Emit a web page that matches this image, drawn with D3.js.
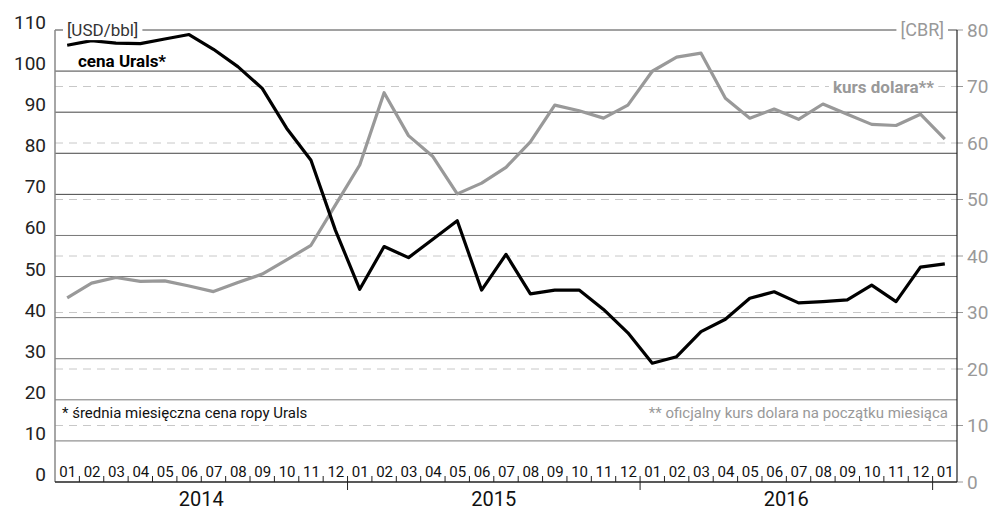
<!DOCTYPE html>
<html>
<head>
<meta charset="utf-8">
<script src="https://cdn.jsdelivr.net/npm/d3@7"></script>
<style>
  body { margin: 0; background: #fff; }
  text { font-family: Roboto, "Noto Sans", sans-serif; }
</style>
</head>
<body>
<div id="chart"></div>
<script>
var months = ['2014-01', '2014-02', '2014-03', '2014-04', '2014-05', '2014-06', '2014-07', '2014-08', '2014-09', '2014-10', '2014-11', '2014-12',
    '2015-01', '2015-02', '2015-03', '2015-04', '2015-05', '2015-06', '2015-07', '2015-08', '2015-09', '2015-10', '2015-11', '2015-12',
    '2016-01', '2016-02', '2016-03', '2016-04', '2016-05', '2016-06', '2016-07', '2016-08', '2016-09', '2016-10', '2016-11', '2016-12',
    '2017-01'];
var monthLabels = ['01', '02', '03', '04', '05', '06', '07', '08', '09', '10', '11', '12',
    '01', '02', '03', '04', '05', '06', '07', '08', '09', '10', '11', '12',
    '01', '02', '03', '04', '05', '06', '07', '08', '09', '10', '11', '12',
    '01'];
var years = ['2014', '2015', '2016'];

// cena Urals, USD/bbl (lewa os)
var urals = [106.3, 107.4, 106.8, 106.7, 107.8, 108.9, 105.3, 101.1, 95.8, 86.1, 78.3, 61.3,
    46.9, 57.3, 54.6, 59.1, 63.6, 46.7, 55.4, 45.8, 46.7, 46.7, 42.0, 36.3,
    28.9, 30.5, 36.6, 39.6, 44.7, 46.3, 43.6, 43.9, 44.3, 47.9, 43.9, 52.3,
    53.1];
// kurs dolara CBR (prawa os)
var usdrub = [32.6, 35.2, 36.2, 35.5, 35.6, 34.7, 33.7, 35.3, 36.8, 39.3, 41.9, 49.0,
    56.1, 68.9, 61.3, 57.6, 51.0, 52.9, 55.7, 60.2, 66.7, 65.7, 64.4, 66.7,
    72.7, 75.2, 75.9, 67.9, 64.4, 66.0, 64.2, 66.9, 65.1, 63.3, 63.1, 65.1,
    60.7];

var leftTicks = [0, 10, 20, 30, 40, 50, 60, 70, 80, 90, 100, 110];
var rightTicks = [0, 10, 20, 30, 40, 50, 60, 70, 80];

var width = 993, height = 511;
var margin = ({ top: 30, right: 36, bottom: 29, left: 55 });

var x = d3.scaleBand()
    .domain(months)
    .range([margin.left, width - margin.right]);
var yL = d3.scaleLinear()
    .domain([0, 110])
    .range([height - margin.bottom, margin.top]);
var yR = d3.scaleLinear()
    .domain([0, 80])
    .range([height - margin.bottom, margin.top]);
var cx = d => x(d) + x.bandwidth() / 2;
var x0 = margin.left, x1 = width - margin.right, yBase = yL(0);

var svg = d3.select('#chart')
    .append('svg')
    .attr('width', width)
    .attr('height', height);

// dashed grid (right axis)
svg.append('g')
    .selectAll('line').data(rightTicks.filter(d => d > 0 && d < 80)).enter().append('line')
    .attr('x1', x0).attr('x2', x1)
    .attr('y1', d => yR(d)).attr('y2', d => yR(d))
    .attr('stroke', '#c8c8c8')
    .attr('stroke-dasharray', '8,6');

// solid grid (left axis)
svg.append('g')
    .selectAll('line').data(leftTicks.filter(d => d > 0)).enter().append('line')
    .attr('x1', x0).attr('x2', x1)
    .attr('y1', d => yL(d)).attr('y2', d => yL(d))
    .attr('stroke', d => d >= 70 ? '#444' : '#777')
    .attr('stroke-width', 1);

// left tick labels
svg.append('g')
    .selectAll('text').data(leftTicks).enter().append('text')
    .attr('x', 46)
    .attr('y', d => yL(d) - 1)
    .attr('text-anchor', 'end')
    .attr('font-size', 19)
    .attr('fill', '#222')
    .text(d => d);

// right ticks + labels
var gR = svg.append('g');
gR.selectAll('line').data(rightTicks).enter().append('line')
    .attr('x1', x1).attr('x2', x1 + 6)
    .attr('y1', d => yR(d)).attr('y2', d => yR(d))
    .attr('stroke', '#999');
gR.selectAll('text').data(rightTicks).enter().append('text')
    .attr('x', x1 + 10)
    .attr('y', d => yR(d))
    .attr('dy', '0.36em')
    .attr('font-size', 19)
    .attr('fill', '#999')
    .text(d => d);

// axes lines
svg.append('line')
    .attr('x1', x0).attr('x2', x0).attr('y1', margin.top).attr('y2', yBase)
    .attr('stroke', '#888').attr('stroke-width', 1.5);
svg.append('line')
    .attr('x1', x1).attr('x2', x1).attr('y1', margin.top).attr('y2', yBase)
    .attr('stroke', '#222').attr('stroke-width', 1.2);
svg.append('line')
    .attr('x1', x0).attr('x2', x1).attr('y1', yBase).attr('y2', yBase)
    .attr('stroke', '#222').attr('stroke-width', 1.5);

// month ticks and labels
svg.append('g')
    .selectAll('line').data(months.slice(1)).enter().append('line')
    .attr('x1', d => x(d)).attr('x2', d => x(d))
    .attr('y1', yBase - 6).attr('y2', d => d.endsWith('-01') ? yBase + 8 : yBase)
    .attr('stroke', '#222');
svg.append('g')
    .selectAll('text').data(months).enter().append('text')
    .attr('x', d => cx(d) + 0.5)
    .attr('y', yBase - 5)
    .attr('text-anchor', 'middle')
    .attr('font-size', 15)
    .attr('fill', '#111')
    .text((d, i) => monthLabels[i]);

// year labels
svg.append('g')
    .selectAll('text').data(years).enter().append('text')
    .attr('x', d => (x(d + '-01') + x(d + '-12') + x.bandwidth()) / 2)
    .attr('y', 506)
    .attr('text-anchor', 'middle')
    .attr('font-size', 20)
    .attr('fill', '#111')
    .text(d => d);

// lines
var lineL = d3.line().x((d, i) => cx(months[i])).y(d => yL(d));
var lineR = d3.line().x((d, i) => cx(months[i])).y(d => yR(d));

svg.append('path')
    .datum(usdrub)
    .attr('d', lineR)
    .attr('fill', 'none')
    .attr('stroke', '#999')
    .attr('stroke-width', 3.2)
    .attr('stroke-linejoin', 'round');

svg.append('path')
    .datum(urals)
    .attr('d', lineL)
    .attr('fill', 'none')
    .attr('stroke', '#000')
    .attr('stroke-width', 3.2)
    .attr('stroke-linejoin', 'round');

// labels on the lines with white background
function boxLabel(txt, xPos, yPos, anchor, size, color, weight) {
    var t = svg.append('text')
        .attr('x', xPos).attr('y', yPos)
        .attr('dy', '0.36em')
        .attr('text-anchor', anchor)
        .attr('font-size', size)
        .attr('font-weight', weight)
        .attr('fill', color)
        .text(txt);
    var b = t.node().getBBox();
    svg.insert('rect', function () { return t.node(); })
        .attr('x', b.x - 4).attr('y', b.y)
        .attr('width', b.width + 8).attr('height', b.height)
        .attr('fill', '#fff');
    return t;
}

boxLabel('[USD/bbl]', 67, yL(110), 'start', 17, '#333', 400);
boxLabel('[CBR]', 944, yR(80), 'end', 18, '#999', 400);
boxLabel('kurs dolara**', 934, yR(70), 'end', 17, '#999', 700);

svg.append('text')
    .attr('x', 78).attr('y', 67)
    .attr('font-size', 17)
    .attr('font-weight', 700)
    .attr('fill', '#000')
    .text('cena Urals*');

svg.append('text')
    .attr('x', 62).attr('y', 418)
    .attr('font-size', 15)
    .attr('fill', '#111')
    .text('* średnia miesięczna cena ropy Urals');

svg.append('text')
    .attr('x', 948).attr('y', 418)
    .attr('text-anchor', 'end')
    .attr('font-size', 15)
    .attr('fill', '#999')
    .text('** oficjalny kurs dolara na początku miesiąca');

svg.node();
</script>
</body>
</html>
